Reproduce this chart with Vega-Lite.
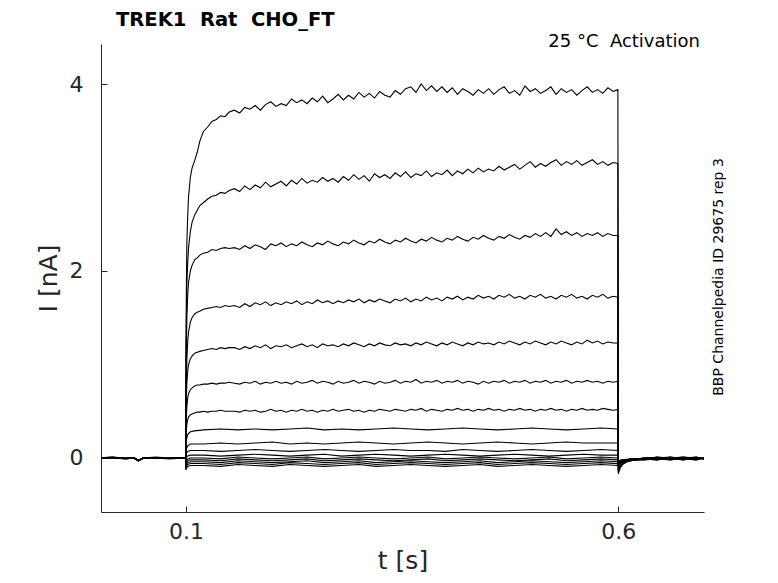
{
  "$schema": "https://vega.github.io/schema/vega-lite/v6.json",
  "width": 603,
  "height": 468,
  "autosize": "none",
  "padding": {"left": 101, "top": 44, "right": 74, "bottom": 71},
  "title": {
    "text": "TREK1\u00a0\u00a0Rat\u00a0\u00a0CHO_FT",
    "anchor": "start",
    "frame": "group",
    "dx": 15,
    "offset": 2,
    "font": "DejaVu Sans",
    "fontSize": 19.5,
    "fontWeight": "bold",
    "color": "#000000"
  },
  "config": {
    "view": {"stroke": null},
    "font": "DejaVu Sans",
    "axis": {
      "grid": false,
      "domainColor": "#262626",
      "tickColor": "#262626",
      "labelColor": "#262626",
      "titleColor": "#262626",
      "labelFont": "DejaVu Sans",
      "titleFont": "DejaVu Sans",
      "labelFontSize": 22,
      "titleFontSize": 25,
      "titleFontWeight": "normal",
      "tickSize": -6
    }
  },
  "datasets": {
    "upper": [
      {"k": 1, "t": 0.0998, "a": 0, "b": 0, "c": 0, "d": 0, "e": 0, "f": 0, "g": 0},
      {"k": 2, "t": 0.1, "a": 1.2, "b": 1.0, "c": 0.8, "d": 0.55, "e": 0.4, "f": 0.3, "g": 0.2},
      {"k": 3, "t": 0.1005, "a": 1.9, "b": 1.5, "c": 1.2, "d": 0.85, "e": 0.65, "f": 0.45, "g": 0.3},
      {"k": 4, "t": 0.101, "a": 2.3, "b": 1.85, "c": 1.5, "d": 1.05, "e": 0.8, "f": 0.55, "g": 0.36},
      {"k": 5, "t": 0.102, "a": 2.6, "b": 2.1, "c": 1.75, "d": 1.25, "e": 0.93, "f": 0.64, "g": 0.41},
      {"k": 6, "t": 0.103, "a": 2.8, "b": 2.25, "c": 1.88, "d": 1.35, "e": 1.0, "f": 0.69, "g": 0.44},
      {"k": 7, "t": 0.105, "a": 3.0, "b": 2.42, "c": 2.0, "d": 1.45, "e": 1.06, "f": 0.73, "g": 0.46},
      {"k": 8, "t": 0.107, "a": 3.1, "b": 2.52, "c": 2.06, "d": 1.5, "e": 1.09, "f": 0.75, "g": 0.47},
      {"k": 9, "t": 0.11, "a": 3.18, "b": 2.6, "c": 2.12, "d": 1.54, "e": 1.12, "f": 0.77, "g": 0.48},
      {"k": 10, "t": 0.113, "a": 3.27, "b": 2.65, "c": 2.14, "d": 1.56, "e": 1.13, "f": 0.78, "g": 0.49},
      {"k": 11, "t": 0.116, "a": 3.39, "b": 2.7, "c": 2.17, "d": 1.57, "e": 1.14, "f": 0.78, "g": 0.49},
      {"k": 12, "t": 0.12, "a": 3.49, "b": 2.73, "c": 2.19, "d": 1.59, "e": 1.15, "f": 0.79, "g": 0.5},
      {"k": 13, "t": 0.125, "a": 3.54, "b": 2.77, "c": 2.2, "d": 1.6, "e": 1.16, "f": 0.79, "g": 0.49},
      {"k": 14, "t": 0.13, "a": 3.6, "b": 2.8, "c": 2.23, "d": 1.61, "e": 1.17, "f": 0.8, "g": 0.5},
      {"k": 15, "t": 0.135, "a": 3.62, "b": 2.81, "c": 2.22, "d": 1.62, "e": 1.16, "f": 0.79, "g": 0.5},
      {"k": 16, "t": 0.14, "a": 3.66, "b": 2.84, "c": 2.24, "d": 1.61, "e": 1.18, "f": 0.8, "g": 0.51},
      {"k": 17, "t": 0.145, "a": 3.65, "b": 2.83, "c": 2.25, "d": 1.63, "e": 1.17, "f": 0.8, "g": 0.5},
      {"k": 18, "t": 0.15, "a": 3.7, "b": 2.86, "c": 2.24, "d": 1.62, "e": 1.18, "f": 0.81, "g": 0.5},
      {"k": 19, "t": 0.156, "a": 3.72, "b": 2.88, "c": 2.25, "d": 1.63, "e": 1.18, "f": 0.8, "g": 0.5},
      {"k": 20, "t": 0.162, "a": 3.69, "b": 2.85, "c": 2.23, "d": 1.61, "e": 1.16, "f": 0.79, "g": 0.49},
      {"k": 21, "t": 0.168, "a": 3.75, "b": 2.91, "c": 2.27, "d": 1.65, "e": 1.19, "f": 0.81, "g": 0.51},
      {"k": 22, "t": 0.174, "a": 3.73, "b": 2.87, "c": 2.24, "d": 1.62, "e": 1.17, "f": 0.8, "g": 0.5},
      {"k": 23, "t": 0.18, "a": 3.77, "b": 2.92, "c": 2.28, "d": 1.66, "e": 1.2, "f": 0.82, "g": 0.51},
      {"k": 24, "t": 0.186, "a": 3.72, "b": 2.89, "c": 2.26, "d": 1.64, "e": 1.18, "f": 0.79, "g": 0.49},
      {"k": 25, "t": 0.192, "a": 3.78, "b": 2.95, "c": 2.23, "d": 1.67, "e": 1.21, "f": 0.81, "g": 0.5},
      {"k": 26, "t": 0.198, "a": 3.81, "b": 2.9, "c": 2.29, "d": 1.63, "e": 1.17, "f": 0.8, "g": 0.52},
      {"k": 27, "t": 0.204, "a": 3.76, "b": 2.93, "c": 2.27, "d": 1.66, "e": 1.2, "f": 0.82, "g": 0.5},
      {"k": 28, "t": 0.21, "a": 3.79, "b": 2.96, "c": 2.3, "d": 1.64, "e": 1.19, "f": 0.8, "g": 0.51},
      {"k": 29, "t": 0.216, "a": 3.77, "b": 2.91, "c": 2.26, "d": 1.67, "e": 1.21, "f": 0.81, "g": 0.49},
      {"k": 30, "t": 0.222, "a": 3.84, "b": 2.97, "c": 2.29, "d": 1.65, "e": 1.18, "f": 0.79, "g": 0.51},
      {"k": 31, "t": 0.228, "a": 3.8, "b": 2.93, "c": 2.27, "d": 1.68, "e": 1.2, "f": 0.82, "g": 0.5},
      {"k": 32, "t": 0.234, "a": 3.83, "b": 2.99, "c": 2.31, "d": 1.64, "e": 1.22, "f": 0.8, "g": 0.52},
      {"k": 33, "t": 0.24, "a": 3.79, "b": 2.94, "c": 2.28, "d": 1.67, "e": 1.19, "f": 0.81, "g": 0.5},
      {"k": 34, "t": 0.246, "a": 3.85, "b": 2.97, "c": 2.26, "d": 1.65, "e": 1.21, "f": 0.83, "g": 0.51},
      {"k": 35, "t": 0.252, "a": 3.81, "b": 2.95, "c": 2.3, "d": 1.69, "e": 1.18, "f": 0.8, "g": 0.49},
      {"k": 36, "t": 0.258, "a": 3.87, "b": 3.0, "c": 2.28, "d": 1.66, "e": 1.22, "f": 0.82, "g": 0.51},
      {"k": 37, "t": 0.264, "a": 3.8, "b": 2.96, "c": 2.32, "d": 1.68, "e": 1.2, "f": 0.81, "g": 0.5},
      {"k": 38, "t": 0.27, "a": 3.84, "b": 2.99, "c": 2.29, "d": 1.65, "e": 1.21, "f": 0.79, "g": 0.52},
      {"k": 39, "t": 0.276, "a": 3.89, "b": 2.95, "c": 2.27, "d": 1.68, "e": 1.19, "f": 0.82, "g": 0.5},
      {"k": 40, "t": 0.282, "a": 3.83, "b": 3.01, "c": 2.31, "d": 1.66, "e": 1.22, "f": 0.8, "g": 0.51},
      {"k": 41, "t": 0.288, "a": 3.88, "b": 2.97, "c": 2.29, "d": 1.69, "e": 1.2, "f": 0.81, "g": 0.52},
      {"k": 42, "t": 0.294, "a": 3.84, "b": 3.03, "c": 2.33, "d": 1.67, "e": 1.23, "f": 0.83, "g": 0.5},
      {"k": 43, "t": 0.3, "a": 3.91, "b": 2.98, "c": 2.3, "d": 1.7, "e": 1.21, "f": 0.8, "g": 0.51},
      {"k": 44, "t": 0.306, "a": 3.86, "b": 3.02, "c": 2.28, "d": 1.66, "e": 1.19, "f": 0.82, "g": 0.49},
      {"k": 45, "t": 0.312, "a": 3.9, "b": 2.96, "c": 2.32, "d": 1.69, "e": 1.22, "f": 0.81, "g": 0.51},
      {"k": 46, "t": 0.318, "a": 3.85, "b": 3.04, "c": 2.3, "d": 1.67, "e": 1.2, "f": 0.79, "g": 0.5},
      {"k": 47, "t": 0.324, "a": 3.92, "b": 3.0, "c": 2.34, "d": 1.7, "e": 1.23, "f": 0.82, "g": 0.52},
      {"k": 48, "t": 0.33, "a": 3.88, "b": 3.03, "c": 2.31, "d": 1.68, "e": 1.21, "f": 0.8, "g": 0.51},
      {"k": 49, "t": 0.336, "a": 3.86, "b": 2.99, "c": 2.29, "d": 1.66, "e": 1.2, "f": 0.81, "g": 0.5},
      {"k": 50, "t": 0.342, "a": 3.93, "b": 3.05, "c": 2.33, "d": 1.7, "e": 1.23, "f": 0.83, "g": 0.52},
      {"k": 51, "t": 0.348, "a": 3.89, "b": 3.01, "c": 2.31, "d": 1.68, "e": 1.21, "f": 0.8, "g": 0.51},
      {"k": 52, "t": 0.354, "a": 3.95, "b": 3.06, "c": 2.35, "d": 1.71, "e": 1.22, "f": 0.82, "g": 0.5},
      {"k": 53, "t": 0.36, "a": 3.97, "b": 3.0, "c": 2.32, "d": 1.67, "e": 1.2, "f": 0.81, "g": 0.52},
      {"k": 54, "t": 0.366, "a": 3.91, "b": 3.04, "c": 2.3, "d": 1.7, "e": 1.23, "f": 0.84, "g": 0.51},
      {"k": 55, "t": 0.372, "a": 4.0, "b": 3.02, "c": 2.34, "d": 1.68, "e": 1.21, "f": 0.8, "g": 0.53},
      {"k": 56, "t": 0.378, "a": 3.93, "b": 3.07, "c": 2.32, "d": 1.72, "e": 1.24, "f": 0.82, "g": 0.5},
      {"k": 57, "t": 0.384, "a": 3.98, "b": 3.01, "c": 2.36, "d": 1.69, "e": 1.22, "f": 0.81, "g": 0.52},
      {"k": 58, "t": 0.39, "a": 3.92, "b": 3.05, "c": 2.33, "d": 1.71, "e": 1.2, "f": 0.83, "g": 0.51},
      {"k": 59, "t": 0.396, "a": 3.97, "b": 3.03, "c": 2.31, "d": 1.68, "e": 1.23, "f": 0.8, "g": 0.5},
      {"k": 60, "t": 0.402, "a": 3.91, "b": 3.08, "c": 2.35, "d": 1.72, "e": 1.21, "f": 0.82, "g": 0.52},
      {"k": 61, "t": 0.408, "a": 3.96, "b": 3.02, "c": 2.33, "d": 1.7, "e": 1.24, "f": 0.81, "g": 0.51},
      {"k": 62, "t": 0.414, "a": 3.89, "b": 3.07, "c": 2.37, "d": 1.73, "e": 1.22, "f": 0.83, "g": 0.53},
      {"k": 63, "t": 0.42, "a": 3.95, "b": 3.04, "c": 2.34, "d": 1.69, "e": 1.2, "f": 0.8, "g": 0.51},
      {"k": 64, "t": 0.426, "a": 3.92, "b": 3.09, "c": 2.32, "d": 1.72, "e": 1.23, "f": 0.82, "g": 0.52},
      {"k": 65, "t": 0.432, "a": 3.88, "b": 3.05, "c": 2.36, "d": 1.7, "e": 1.21, "f": 0.81, "g": 0.5},
      {"k": 66, "t": 0.438, "a": 3.94, "b": 3.1, "c": 2.34, "d": 1.74, "e": 1.24, "f": 0.79, "g": 0.52},
      {"k": 67, "t": 0.444, "a": 3.9, "b": 3.06, "c": 2.38, "d": 1.71, "e": 1.22, "f": 0.82, "g": 0.51},
      {"k": 68, "t": 0.45, "a": 3.95, "b": 3.09, "c": 2.35, "d": 1.73, "e": 1.23, "f": 0.8, "g": 0.53},
      {"k": 69, "t": 0.456, "a": 3.89, "b": 3.07, "c": 2.33, "d": 1.7, "e": 1.21, "f": 0.82, "g": 0.51},
      {"k": 70, "t": 0.462, "a": 3.94, "b": 3.12, "c": 2.37, "d": 1.74, "e": 1.24, "f": 0.81, "g": 0.52},
      {"k": 71, "t": 0.468, "a": 3.97, "b": 3.08, "c": 2.35, "d": 1.72, "e": 1.22, "f": 0.83, "g": 0.5},
      {"k": 72, "t": 0.474, "a": 3.9, "b": 3.11, "c": 2.39, "d": 1.75, "e": 1.25, "f": 0.8, "g": 0.52},
      {"k": 73, "t": 0.48, "a": 3.93, "b": 3.14, "c": 2.36, "d": 1.71, "e": 1.23, "f": 0.82, "g": 0.51},
      {"k": 74, "t": 0.486, "a": 3.88, "b": 3.09, "c": 2.34, "d": 1.73, "e": 1.21, "f": 0.81, "g": 0.53},
      {"k": 75, "t": 0.492, "a": 3.98, "b": 3.13, "c": 2.38, "d": 1.7, "e": 1.24, "f": 0.83, "g": 0.51},
      {"k": 76, "t": 0.498, "a": 3.92, "b": 3.17, "c": 2.36, "d": 1.74, "e": 1.22, "f": 0.8, "g": 0.52},
      {"k": 77, "t": 0.504, "a": 3.95, "b": 3.11, "c": 2.4, "d": 1.72, "e": 1.25, "f": 0.82, "g": 0.5},
      {"k": 78, "t": 0.51, "a": 3.9, "b": 3.15, "c": 2.37, "d": 1.75, "e": 1.23, "f": 0.81, "g": 0.52},
      {"k": 79, "t": 0.516, "a": 3.93, "b": 3.12, "c": 2.41, "d": 1.71, "e": 1.21, "f": 0.83, "g": 0.51},
      {"k": 80, "t": 0.522, "a": 3.97, "b": 3.16, "c": 2.37, "d": 1.73, "e": 1.24, "f": 0.8, "g": 0.53},
      {"k": 81, "t": 0.528, "a": 3.89, "b": 3.19, "c": 2.45, "d": 1.7, "e": 1.22, "f": 0.82, "g": 0.51},
      {"k": 82, "t": 0.534, "a": 3.95, "b": 3.13, "c": 2.39, "d": 1.74, "e": 1.25, "f": 0.81, "g": 0.52},
      {"k": 83, "t": 0.54, "a": 3.91, "b": 3.17, "c": 2.42, "d": 1.72, "e": 1.23, "f": 0.83, "g": 0.5},
      {"k": 84, "t": 0.546, "a": 3.94, "b": 3.14, "c": 2.38, "d": 1.75, "e": 1.21, "f": 0.8, "g": 0.52},
      {"k": 85, "t": 0.552, "a": 3.88, "b": 3.18, "c": 2.41, "d": 1.71, "e": 1.24, "f": 0.82, "g": 0.51},
      {"k": 86, "t": 0.558, "a": 3.93, "b": 3.13, "c": 2.37, "d": 1.73, "e": 1.22, "f": 0.81, "g": 0.53},
      {"k": 87, "t": 0.564, "a": 3.97, "b": 3.16, "c": 2.4, "d": 1.7, "e": 1.26, "f": 0.83, "g": 0.51},
      {"k": 88, "t": 0.57, "a": 3.91, "b": 3.19, "c": 2.38, "d": 1.74, "e": 1.23, "f": 0.81, "g": 0.52},
      {"k": 89, "t": 0.576, "a": 3.94, "b": 3.14, "c": 2.41, "d": 1.72, "e": 1.25, "f": 0.82, "g": 0.51},
      {"k": 90, "t": 0.582, "a": 3.9, "b": 3.17, "c": 2.37, "d": 1.75, "e": 1.22, "f": 0.8, "g": 0.53},
      {"k": 91, "t": 0.588, "a": 3.96, "b": 3.13, "c": 2.4, "d": 1.71, "e": 1.24, "f": 0.82, "g": 0.52},
      {"k": 92, "t": 0.594, "a": 3.92, "b": 3.16, "c": 2.38, "d": 1.73, "e": 1.23, "f": 0.81, "g": 0.51},
      {"k": 93, "t": 0.5995, "a": 3.94, "b": 3.15, "c": 2.38, "d": 1.72, "e": 1.23, "f": 0.82, "g": 0.52},
      {"k": 94, "t": 0.6, "a": -0.17, "b": -0.15, "c": -0.13, "d": -0.11, "e": -0.09, "f": -0.07, "g": -0.05},
      {"k": 95, "t": 0.602, "a": -0.11, "b": -0.1, "c": -0.09, "d": -0.08, "e": -0.06, "f": -0.05, "g": -0.04},
      {"k": 96, "t": 0.605, "a": -0.07, "b": -0.06, "c": -0.06, "d": -0.05, "e": -0.04, "f": -0.03, "g": -0.03},
      {"k": 97, "t": 0.61, "a": -0.04, "b": -0.04, "c": -0.03, "d": -0.03, "e": -0.02, "f": -0.02, "g": -0.02},
      {"k": 98, "t": 0.62, "a": -0.02, "b": -0.02, "c": -0.02, "d": -0.01, "e": -0.01, "f": -0.01, "g": -0.01},
      {"k": 99, "t": 0.635, "a": -0.01, "b": -0.01, "c": 0, "d": -0.01, "e": 0, "f": -0.01, "g": 0},
      {"k": 100, "t": 0.65, "a": 0, "b": 0, "c": 0, "d": 0, "e": 0, "f": 0, "g": 0}
    ],
    "lower": [
      {"k": 1, "t": 0.0, "h": 0, "j": 0, "l": 0, "m": 0, "n": 0, "o": 0, "p": 0, "q": 0, "r": 0},
      {"k": 2, "t": 0.015, "h": 0.005, "j": 0, "l": 0.01, "m": 0.005, "n": 0, "o": 0.005, "p": 0.01, "q": 0, "r": 0.005},
      {"k": 3, "t": 0.03, "h": -0.005, "j": 0, "l": -0.01, "m": -0.005, "n": 0, "o": -0.005, "p": 0, "q": -0.01, "r": -0.005},
      {"k": 4, "t": 0.04, "h": 0, "j": 0.005, "l": 0, "m": -0.005, "n": 0, "o": 0.005, "p": 0, "q": 0, "r": -0.005},
      {"k": 5, "t": 0.045, "h": -0.03, "j": -0.025, "l": -0.03, "m": -0.03, "n": -0.025, "o": -0.03, "p": -0.03, "q": -0.025, "r": -0.03},
      {"k": 6, "t": 0.05, "h": -0.005, "j": 0, "l": -0.005, "m": 0, "n": -0.005, "o": 0, "p": -0.005, "q": 0, "r": -0.005},
      {"k": 7, "t": 0.065, "h": 0.005, "j": 0, "l": 0.005, "m": 0.01, "n": 0, "o": 0.005, "p": 0, "q": 0.005, "r": 0},
      {"k": 8, "t": 0.08, "h": -0.005, "j": 0, "l": -0.005, "m": 0, "n": -0.01, "o": 0, "p": -0.005, "q": 0, "r": -0.005},
      {"k": 9, "t": 0.0998, "h": 0, "j": 0, "l": 0, "m": 0, "n": 0, "o": 0, "p": 0, "q": 0, "r": 0},
      {"k": 10, "t": 0.1, "h": 0.12, "j": 0.05, "l": 0, "m": -0.05, "n": -0.08, "o": -0.1, "p": -0.11, "q": -0.12, "r": -0.13},
      {"k": 11, "t": 0.1005, "h": 0.2, "j": 0.1, "l": 0.05, "m": 0.01, "n": -0.03, "o": -0.05, "p": -0.07, "q": -0.09, "r": -0.11},
      {"k": 12, "t": 0.102, "h": 0.25, "j": 0.13, "l": 0.07, "m": 0.02, "n": -0.01, "o": -0.03, "p": -0.05, "q": -0.07, "r": -0.09},
      {"k": 13, "t": 0.105, "h": 0.28, "j": 0.15, "l": 0.08, "m": 0.03, "n": 0, "o": -0.02, "p": -0.04, "q": -0.06, "r": -0.08},
      {"k": 14, "t": 0.11, "h": 0.29, "j": 0.15, "l": 0.08, "m": 0.03, "n": 0, "o": -0.02, "p": -0.04, "q": -0.06, "r": -0.08},
      {"k": 15, "t": 0.12, "h": 0.3, "j": 0.15, "l": 0.08, "m": 0.03, "n": 0, "o": -0.02, "p": -0.04, "q": -0.06, "r": -0.08},
      {"k": 16, "t": 0.14, "h": 0.31, "j": 0.16, "l": 0.07, "m": 0.02, "n": -0.01, "o": -0.03, "p": -0.05, "q": -0.07, "r": -0.09},
      {"k": 17, "t": 0.16, "h": 0.3, "j": 0.15, "l": 0.08, "m": 0.03, "n": 0.01, "o": -0.01, "p": -0.03, "q": -0.05, "r": -0.07},
      {"k": 18, "t": 0.18, "h": 0.31, "j": 0.16, "l": 0.09, "m": 0.04, "n": 0, "o": -0.02, "p": -0.04, "q": -0.06, "r": -0.08},
      {"k": 19, "t": 0.2, "h": 0.3, "j": 0.17, "l": 0.08, "m": 0.03, "n": -0.01, "o": -0.03, "p": -0.05, "q": -0.07, "r": -0.09},
      {"k": 20, "t": 0.22, "h": 0.31, "j": 0.15, "l": 0.07, "m": 0.02, "n": 0, "o": -0.02, "p": -0.04, "q": -0.05, "r": -0.07},
      {"k": 21, "t": 0.24, "h": 0.32, "j": 0.16, "l": 0.08, "m": 0.03, "n": 0.01, "o": -0.01, "p": -0.03, "q": -0.06, "r": -0.08},
      {"k": 22, "t": 0.26, "h": 0.3, "j": 0.15, "l": 0.09, "m": 0.04, "n": -0.01, "o": -0.03, "p": -0.05, "q": -0.07, "r": -0.09},
      {"k": 23, "t": 0.28, "h": 0.31, "j": 0.16, "l": 0.08, "m": 0.02, "n": 0, "o": -0.02, "p": -0.04, "q": -0.06, "r": -0.08},
      {"k": 24, "t": 0.3, "h": 0.3, "j": 0.17, "l": 0.07, "m": 0.03, "n": 0.01, "o": -0.01, "p": -0.03, "q": -0.05, "r": -0.07},
      {"k": 25, "t": 0.32, "h": 0.31, "j": 0.16, "l": 0.08, "m": 0.04, "n": 0, "o": -0.02, "p": -0.05, "q": -0.07, "r": -0.09},
      {"k": 26, "t": 0.34, "h": 0.32, "j": 0.15, "l": 0.09, "m": 0.03, "n": -0.01, "o": -0.03, "p": -0.04, "q": -0.06, "r": -0.08},
      {"k": 27, "t": 0.36, "h": 0.31, "j": 0.16, "l": 0.08, "m": 0.02, "n": 0, "o": -0.02, "p": -0.03, "q": -0.05, "r": -0.07},
      {"k": 28, "t": 0.38, "h": 0.3, "j": 0.17, "l": 0.08, "m": 0.03, "n": 0.01, "o": -0.01, "p": -0.04, "q": -0.06, "r": -0.08},
      {"k": 29, "t": 0.4, "h": 0.31, "j": 0.16, "l": 0.07, "m": 0.04, "n": -0.01, "o": -0.03, "p": -0.05, "q": -0.07, "r": -0.09},
      {"k": 30, "t": 0.42, "h": 0.32, "j": 0.15, "l": 0.09, "m": 0.03, "n": 0, "o": -0.02, "p": -0.04, "q": -0.06, "r": -0.08},
      {"k": 31, "t": 0.44, "h": 0.31, "j": 0.16, "l": 0.08, "m": 0.02, "n": 0.01, "o": -0.01, "p": -0.03, "q": -0.05, "r": -0.07},
      {"k": 32, "t": 0.46, "h": 0.3, "j": 0.17, "l": 0.07, "m": 0.03, "n": 0, "o": -0.02, "p": -0.05, "q": -0.07, "r": -0.09},
      {"k": 33, "t": 0.48, "h": 0.31, "j": 0.16, "l": 0.08, "m": 0.04, "n": -0.01, "o": -0.03, "p": -0.04, "q": -0.06, "r": -0.08},
      {"k": 34, "t": 0.5, "h": 0.32, "j": 0.15, "l": 0.09, "m": 0.03, "n": 0, "o": -0.02, "p": -0.03, "q": -0.05, "r": -0.07},
      {"k": 35, "t": 0.52, "h": 0.31, "j": 0.16, "l": 0.08, "m": 0.02, "n": 0.01, "o": -0.01, "p": -0.04, "q": -0.06, "r": -0.08},
      {"k": 36, "t": 0.54, "h": 0.3, "j": 0.17, "l": 0.07, "m": 0.03, "n": -0.01, "o": -0.03, "p": -0.05, "q": -0.07, "r": -0.09},
      {"k": 37, "t": 0.56, "h": 0.31, "j": 0.16, "l": 0.08, "m": 0.04, "n": 0, "o": -0.02, "p": -0.04, "q": -0.06, "r": -0.08},
      {"k": 38, "t": 0.58, "h": 0.32, "j": 0.16, "l": 0.09, "m": 0.03, "n": 0.01, "o": -0.01, "p": -0.03, "q": -0.05, "r": -0.07},
      {"k": 39, "t": 0.5995, "h": 0.31, "j": 0.16, "l": 0.08, "m": 0.03, "n": 0, "o": -0.02, "p": -0.04, "q": -0.06, "r": -0.08},
      {"k": 40, "t": 0.6, "h": -0.06, "j": -0.05, "l": -0.05, "m": -0.04, "n": -0.04, "o": -0.03, "p": -0.03, "q": -0.03, "r": -0.03},
      {"k": 41, "t": 0.605, "h": -0.04, "j": -0.03, "l": -0.03, "m": -0.02, "n": -0.03, "o": -0.02, "p": -0.03, "q": -0.02, "r": -0.03},
      {"k": 42, "t": 0.615, "h": -0.02, "j": -0.02, "l": -0.01, "m": -0.02, "n": -0.02, "o": -0.01, "p": -0.02, "q": -0.02, "r": -0.01},
      {"k": 43, "t": 0.63, "h": -0.01, "j": 0, "l": -0.02, "m": -0.01, "n": 0, "o": -0.01, "p": -0.02, "q": 0, "r": -0.01},
      {"k": 44, "t": 0.645, "h": 0, "j": -0.01, "l": 0.01, "m": -0.02, "n": 0, "o": 0.01, "p": -0.01, "q": 0, "r": -0.02},
      {"k": 45, "t": 0.66, "h": -0.01, "j": 0, "l": -0.02, "m": 0.01, "n": -0.01, "o": 0, "p": -0.02, "q": 0.01, "r": 0},
      {"k": 46, "t": 0.675, "h": 0, "j": -0.02, "l": 0, "m": -0.01, "n": 0.01, "o": -0.02, "p": 0, "q": -0.01, "r": 0.01},
      {"k": 47, "t": 0.69, "h": -0.01, "j": 0.01, "l": -0.02, "m": 0, "n": -0.01, "o": 0, "p": 0.01, "q": -0.02, "r": 0},
      {"k": 48, "t": 0.699, "h": 0, "j": -0.01, "l": 0, "m": -0.01, "n": 0, "o": 0, "p": -0.01, "q": 0, "r": -0.01}
    ]
  },
  "layer": [
    {
      "data": {"name": "upper"},
      "transform": [{"fold": ["a", "b", "c", "d", "e", "f", "g"], "as": ["trace", "cur"]}],
      "mark": {"type": "line", "color": "#000000", "strokeWidth": 1.1, "clip": true},
      "encoding": {
        "x": {
          "field": "t",
          "type": "quantitative",
          "scale": {"domain": [0.0017, 0.6991], "nice": false, "zero": false},
          "axis": {"values": [0.1, 0.6], "format": ".1f", "title": "t [s]", "labelPadding": 15, "titlePadding": 6}
        },
        "y": {
          "field": "cur",
          "type": "quantitative",
          "scale": {"domain": [-0.578, 4.428], "nice": false, "zero": false},
          "axis": {"values": [0, 2, 4], "format": "d", "title": "I [nA]", "labelPadding": 24, "titlePadding": 8}
        },
        "detail": {"field": "trace", "type": "nominal"},
        "order": {"field": "k", "type": "quantitative"}
      }
    },
    {
      "data": {"name": "lower"},
      "transform": [{"fold": ["h", "j", "l", "m", "n", "o", "p", "q", "r"], "as": ["trace", "cur"]}],
      "mark": {"type": "line", "color": "#000000", "strokeWidth": 1.1, "clip": true},
      "encoding": {
        "x": {"field": "t", "type": "quantitative", "scale": {"domain": [0.0017, 0.6991], "nice": false, "zero": false}},
        "y": {"field": "cur", "type": "quantitative", "scale": {"domain": [-0.578, 4.428], "nice": false, "zero": false}},
        "detail": {"field": "trace", "type": "nominal"},
        "order": {"field": "k", "type": "quantitative"}
      }
    },
    {
      "data": {"values": [{"label": "25 °C\u00a0\u00a0Activation", "tx": 0.6945, "iy": 4.399}]},
      "mark": {"type": "text", "align": "right", "baseline": "alphabetic", "font": "DejaVu Sans", "fontSize": 18, "color": "#000000"},
      "encoding": {
        "x": {"field": "tx", "type": "quantitative"},
        "y": {"field": "iy", "type": "quantitative"},
        "text": {"field": "label"}
      }
    },
    {
      "data": {"values": [{"label": "BBP Channelpedia ID 29675 rep 3", "tx": 0.7165, "iy": 1.936}]},
      "mark": {"type": "text", "angle": 270, "align": "center", "baseline": "middle", "font": "DejaVu Sans", "fontSize": 14, "color": "#000000"},
      "encoding": {
        "x": {"field": "tx", "type": "quantitative"},
        "y": {"field": "iy", "type": "quantitative"},
        "text": {"field": "label"}
      }
    }
  ]
}
